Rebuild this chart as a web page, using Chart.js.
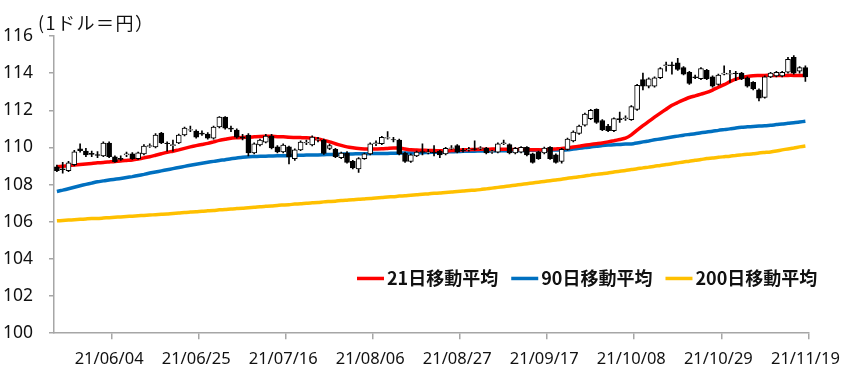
<!DOCTYPE html>
<html>
<head>
<meta charset="utf-8">
<script src="https://cdn.jsdelivr.net/npm/chart.js@4/dist/chart.umd.min.js"></script>
<style>
  body { margin: 0; background: #fff; }
  canvas { display: block; }
</style>
</head>
<body>
<canvas id="fx-chart" width="850" height="382"></canvas>
<script>
// trading days (weekdays) 2021/05/24 - 2021/11/19
var dates = [
  "21/05/24","21/05/25","21/05/26","21/05/27","21/05/28","21/05/31","21/06/01","21/06/02","21/06/03","21/06/04",
  "21/06/07","21/06/08","21/06/09","21/06/10","21/06/11","21/06/14","21/06/15","21/06/16","21/06/17","21/06/18",
  "21/06/21","21/06/22","21/06/23","21/06/24","21/06/25","21/06/28","21/06/29","21/06/30","21/07/01","21/07/02",
  "21/07/05","21/07/06","21/07/07","21/07/08","21/07/09","21/07/12","21/07/13","21/07/14","21/07/15","21/07/16",
  "21/07/19","21/07/20","21/07/21","21/07/22","21/07/23","21/07/26","21/07/27","21/07/28","21/07/29","21/07/30",
  "21/08/02","21/08/03","21/08/04","21/08/05","21/08/06","21/08/09","21/08/10","21/08/11","21/08/12","21/08/13",
  "21/08/16","21/08/17","21/08/18","21/08/19","21/08/20","21/08/23","21/08/24","21/08/25","21/08/26","21/08/27",
  "21/08/30","21/08/31","21/09/01","21/09/02","21/09/03","21/09/06","21/09/07","21/09/08","21/09/09","21/09/10",
  "21/09/13","21/09/14","21/09/15","21/09/16","21/09/17","21/09/20","21/09/21","21/09/22","21/09/23","21/09/24",
  "21/09/27","21/09/28","21/09/29","21/09/30","21/10/01","21/10/04","21/10/05","21/10/06","21/10/07","21/10/08",
  "21/10/11","21/10/12","21/10/13","21/10/14","21/10/15","21/10/18","21/10/19","21/10/20","21/10/21","21/10/22",
  "21/10/25","21/10/26","21/10/27","21/10/28","21/10/29","21/11/01","21/11/02","21/11/03","21/11/04","21/11/05",
  "21/11/08","21/11/09","21/11/10","21/11/11","21/11/12","21/11/15","21/11/16","21/11/17","21/11/18","21/11/19"
];

var openPx = [
  108.96,108.85,108.75,109.07,109.92,109.81,109.68,109.62,109.55,110.24,
  109.50,109.42,109.60,109.65,109.39,109.65,110.05,110.03,110.77,110.24,
  110.10,110.24,110.67,110.93,110.88,110.77,110.72,110.50,111.10,111.63,
  111.04,110.93,110.56,110.67,109.70,110.13,110.29,110.61,110.03,109.76,
  110.03,109.39,109.87,110.24,110.13,110.40,110.40,109.95,109.90,109.45,
  109.70,109.25,108.85,109.40,109.65,110.20,110.20,110.50,110.43,110.40,
  109.70,109.25,109.55,109.78,109.72,109.75,109.80,109.65,109.95,110.10,
  109.85,109.88,109.93,109.95,109.95,109.75,109.75,110.20,110.15,109.70,
  109.75,110.00,109.65,109.75,109.70,110.00,109.60,109.25,109.90,110.35,
  110.75,111.20,111.55,112.05,111.45,111.15,110.90,111.55,111.55,111.50,
  112.05,113.65,113.30,113.30,113.75,114.40,114.45,114.55,114.30,114.05,
  113.80,113.70,114.15,113.80,113.40,113.95,113.95,114.00,114.00,113.75,
  113.50,113.10,112.70,113.80,113.85,113.85,114.05,114.85,114.10,114.30
];
var highPx = [
  109.05,109.20,109.25,109.85,110.19,109.95,109.80,109.78,110.30,110.30,
  109.55,109.55,109.75,109.72,109.75,110.15,110.20,110.75,110.82,110.30,
  110.40,110.72,111.10,111.15,110.95,110.90,110.80,111.15,111.66,111.66,
  111.15,111.00,110.70,110.75,110.25,110.45,110.70,110.70,110.10,110.20,
  110.08,109.92,110.35,110.40,110.62,110.55,110.45,110.18,109.95,109.75,
  109.78,109.30,109.45,109.70,110.25,110.35,110.60,110.85,110.55,110.45,
  109.75,109.65,109.80,110.20,109.90,110.10,109.85,110.00,110.10,110.15,
  109.95,110.00,110.35,110.05,110.00,109.85,110.25,110.40,110.20,110.00,
  110.05,110.05,109.70,109.80,110.02,110.05,109.65,109.95,110.50,110.90,
  111.20,111.85,112.05,112.08,111.50,111.25,111.60,111.90,111.70,112.25,
  113.40,114.00,113.75,113.80,114.30,114.60,114.60,114.80,114.35,114.10,
  113.90,114.30,114.20,113.85,113.95,114.40,114.15,114.10,114.05,113.80,
  113.55,113.15,113.85,114.05,114.10,114.10,114.85,114.95,114.35,114.40
];
var lowPx = [
  108.70,108.62,108.70,109.00,109.75,109.50,109.50,109.45,109.50,109.45,
  109.20,109.30,109.50,109.35,109.35,109.60,110.00,109.98,110.20,109.80,
  109.80,110.20,110.62,110.85,110.50,110.65,110.45,110.45,111.05,110.98,
  110.85,110.50,110.40,109.55,109.65,110.08,110.25,109.92,109.70,109.70,
  109.12,109.30,109.82,110.15,110.08,110.30,109.62,109.88,109.45,109.40,
  109.15,108.85,108.65,109.35,109.60,110.10,110.15,110.45,110.30,109.60,
  109.20,109.20,109.50,109.60,109.65,109.55,109.45,109.60,109.90,109.70,
  109.75,109.80,109.85,109.88,109.65,109.68,109.70,110.15,109.65,109.65,
  109.70,109.55,109.15,109.35,109.65,109.35,109.15,109.15,109.85,110.30,
  110.70,111.15,111.50,111.30,110.90,110.85,110.85,111.35,111.45,111.45,
  112.00,113.10,113.20,113.25,113.70,114.10,113.95,114.15,113.90,113.40,
  113.70,113.65,113.65,113.25,113.35,113.90,113.50,113.60,113.65,113.25,
  113.10,112.50,112.65,113.75,113.80,113.80,114.00,113.95,114.00,113.55
];
var closePx = [
  108.75,108.80,109.17,109.76,109.82,109.60,109.63,109.57,110.24,109.50,
  109.23,109.36,109.65,109.39,109.71,110.08,110.10,110.67,110.24,110.20,
  110.15,110.67,111.04,110.96,110.56,110.72,110.50,111.10,111.63,111.04,
  110.99,110.56,110.50,109.70,110.19,110.40,110.61,109.97,109.76,110.13,
  109.49,109.87,110.29,110.27,110.56,110.43,109.68,110.10,109.50,109.70,
  109.20,108.90,109.40,109.65,110.20,110.25,110.55,110.53,110.40,109.65,
  109.25,109.60,109.75,109.73,109.76,109.72,109.60,109.95,109.98,109.75,
  109.82,109.90,109.90,109.98,109.70,109.78,110.20,110.25,109.70,109.95,
  110.00,109.60,109.20,109.40,109.97,109.40,109.20,109.90,110.45,110.83,
  111.15,111.80,112.00,111.35,110.95,110.90,111.55,111.50,111.60,112.20,
  113.35,113.30,113.70,113.75,114.25,114.45,114.40,114.20,113.95,113.45,
  113.75,114.25,113.70,113.30,113.90,114.00,113.98,113.97,113.70,113.30,
  113.15,112.65,113.80,114.00,114.05,114.05,114.75,114.00,114.30,113.80
];

var ma21 = [
  108.96,108.99,109.02,109.05,109.08,109.11,109.14,109.17,109.19,109.22,
  109.25,109.27,109.30,109.33,109.38,109.44,109.50,109.58,109.66,109.74,
  109.80,109.87,109.95,110.03,110.10,110.16,110.22,110.30,110.38,110.44,
  110.50,110.52,110.54,110.55,110.57,110.59,110.60,110.60,110.58,110.57,
  110.55,110.54,110.53,110.52,110.50,110.45,110.38,110.30,110.20,110.11,
  110.03,109.98,109.94,109.92,109.91,109.92,109.93,109.95,109.97,109.97,
  109.92,109.87,109.86,109.85,109.84,109.83,109.82,109.81,109.83,109.85,
  109.87,109.88,109.89,109.90,109.90,109.91,109.91,109.90,109.90,109.89,
  109.89,109.88,109.88,109.87,109.87,109.89,109.92,109.95,109.97,110.02,
  110.07,110.12,110.16,110.20,110.24,110.30,110.36,110.43,110.50,110.68,
  110.93,111.17,111.40,111.63,111.85,112.06,112.27,112.42,112.56,112.69,
  112.78,112.87,112.96,113.09,113.24,113.38,113.54,113.68,113.76,113.82,
  113.86,113.87,113.88,113.88,113.87,113.87,113.88,113.88,113.87,113.87
];
var ma90 = [
  107.63,107.70,107.78,107.86,107.94,108.01,108.08,108.15,108.20,108.25,
  108.29,108.33,108.38,108.43,108.49,108.55,108.62,108.68,108.74,108.80,
  108.86,108.92,108.98,109.04,109.10,109.15,109.20,109.25,109.30,109.34,
  109.39,109.43,109.47,109.50,109.51,109.52,109.53,109.54,109.55,109.55,
  109.56,109.57,109.58,109.59,109.60,109.60,109.61,109.62,109.63,109.64,
  109.65,109.65,109.66,109.66,109.67,109.67,109.68,109.68,109.69,109.69,
  109.70,109.70,109.71,109.72,109.73,109.74,109.75,109.76,109.77,109.78,
  109.79,109.80,109.80,109.81,109.81,109.82,109.82,109.82,109.83,109.83,
  109.84,109.84,109.85,109.85,109.85,109.86,109.86,109.87,109.87,109.91,
  109.95,109.99,110.03,110.06,110.10,110.13,110.15,110.16,110.18,110.19,
  110.24,110.30,110.35,110.41,110.46,110.51,110.56,110.61,110.66,110.70,
  110.74,110.79,110.83,110.87,110.92,110.96,111.00,111.05,111.09,111.11,
  111.13,111.15,111.17,111.19,111.23,111.26,111.30,111.33,111.37,111.41
];
var ma200 = [
  106.05,106.07,106.09,106.11,106.13,106.15,106.17,106.18,106.20,106.22,
  106.24,106.26,106.28,106.30,106.32,106.34,106.36,106.38,106.40,106.42,
  106.45,106.47,106.50,106.52,106.54,106.57,106.59,106.61,106.64,106.66,
  106.69,106.71,106.73,106.76,106.78,106.81,106.83,106.85,106.88,106.90,
  106.92,106.95,106.97,107.00,107.02,107.04,107.07,107.09,107.11,107.14,
  107.16,107.18,107.21,107.23,107.25,107.28,107.30,107.33,107.35,107.38,
  107.40,107.43,107.45,107.48,107.50,107.53,107.55,107.58,107.60,107.63,
  107.65,107.68,107.70,107.73,107.77,107.81,107.85,107.89,107.93,107.97,
  108.01,108.05,108.09,108.13,108.17,108.21,108.25,108.29,108.34,108.38,
  108.42,108.46,108.51,108.55,108.59,108.63,108.68,108.72,108.76,108.81,
  108.85,108.90,108.94,108.99,109.03,109.08,109.12,109.17,109.22,109.26,
  109.31,109.35,109.40,109.43,109.47,109.50,109.53,109.57,109.60,109.63,
  109.66,109.70,109.73,109.76,109.81,109.87,109.92,109.97,110.03,110.08
];

var unitLabel = "(1ドル＝円）";
var maLabels = ["21日移動平均", "90日移動平均", "200日移動平均"];
var maColors = ["#FF0000", "#0070C0", "#FFC000"];
var axisGrey = "#A6A6A6";

Chart.defaults.font.family = '"Noto Sans", sans-serif';
Chart.defaults.color = "#111";

// title at top-left and moving-average legend inside the plot
var maLegend = {
  id: "maLegend",
  afterDraw: function(chart) {
    var ctx = chart.ctx;
    var area = chart.chartArea;
    ctx.save();
    ctx.fillStyle = "#111";
    ctx.textBaseline = "alphabetic";
    ctx.font = '18px "Noto Sans CJK JP"';
    ctx.letterSpacing = "1.5px";
    ctx.fillText(unitLabel, area.left - 16, area.top - 6);
    ctx.letterSpacing = "0px";

    ctx.font = 'bold 18px "Noto Sans CJK JP"';
    ctx.textBaseline = "middle";
    var ly = chart.scales.y.getPixelForValue(103) + 1;
    var x = area.left + 303;
    for (var i = 0; i < maLabels.length; i++) {
      ctx.strokeStyle = maColors[i];
      ctx.lineWidth = 3.5;
      ctx.beginPath();
      ctx.moveTo(x, ly);
      ctx.lineTo(x + 27, ly);
      ctx.stroke();
      x += 30;
      ctx.fillText(maLabels[i], x, ly);
      x += ctx.measureText(maLabels[i]).width + 13;
    }
    ctx.restore();
  }
};

var bodies = openPx.map(function(o, i){ return [o, closePx[i]]; });
var wicks = lowPx.map(function(l, i){ return [l, highPx[i]]; });
var bodyColors = openPx.map(function(o, i){ return closePx[i] >= o ? "#FFFFFF" : "#000000"; });

function lineSet(label, data, color) {
  return {
    type: "line",
    label: label,
    data: data,
    borderColor: color,
    backgroundColor: color,
    borderWidth: 3.5,
    pointRadius: 0,
    tension: 0.2,
    order: 3
  };
}

var chart = new Chart(document.getElementById("fx-chart"), {
  type: "bar",
  data: {
    labels: dates,
    datasets: [
      {
        label: "body",
        data: bodies,
        backgroundColor: bodyColors,
        borderColor: "#000000",
        borderWidth: 1,
        borderSkipped: false,
        barThickness: 5,
        grouped: false,
        order: 1
      },
      {
        label: "wick",
        data: wicks,
        backgroundColor: "#000000",
        borderWidth: 0,
        barThickness: 1,
        grouped: false,
        order: 2
      },
      lineSet(maLabels[0], ma21, maColors[0]),
      lineSet(maLabels[1], ma90, maColors[1]),
      lineSet(maLabels[2], ma200, maColors[2])
    ]
  },
  options: {
    responsive: false,
    animation: false,
    layout: { padding: { top: 36, left: 3, right: 41, bottom: 3 } },
    plugins: {
      legend: { display: false },
      tooltip: { enabled: false }
    },
    scales: {
      x: {
        type: "category",
        offset: true,
        grid: {
          offset: true,
          drawOnChartArea: false,
          drawTicks: true,
          tickLength: 6,
          lineWidth: 1.5,
          color: function(c) {
            return (c.index === undefined || c.index % 15 === 10) ? axisGrey : "rgba(0,0,0,0)";
          }
        },
        border: { display: true, color: axisGrey, width: 1.5 },
        ticks: {
          autoSkip: false,
          maxRotation: 0,
          padding: 10,
          font: { size: 16.5 },
          callback: function(v, i) { return i % 15 === 9 ? dates[i] : ""; }
        }
      },
      y: {
        min: 100,
        max: 116,
        afterFit: function(scale) { scale.width = 51; },
        grid: { drawOnChartArea: false, tickLength: 5, color: axisGrey, lineWidth: 1.5 },
        border: { display: true, color: axisGrey, width: 1.5 },
        ticks: { stepSize: 2, padding: 16, font: { size: 17.5 } }
      }
    }
  },
  plugins: [maLegend]
});
</script>
</body>
</html>
